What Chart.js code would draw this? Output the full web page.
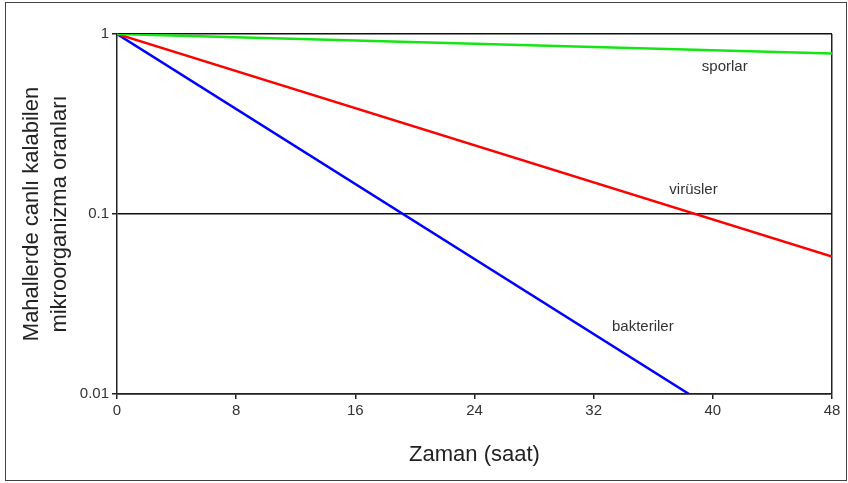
<!DOCTYPE html>
<html>
<head>
<meta charset="utf-8">
<script src="https://cdn.jsdelivr.net/npm/chart.js@4"></script>
<style>
  body { margin: 0; background: #fff; }
  #wrap { position: relative; width: 848px; height: 483px; }
  #frame { position: absolute; left: 5px; top: 2px; width: 840px; height: 477px; border: 1.5px solid #444; }
</style>
</head>
<body>
<div id="wrap">
  <canvas id="chart" width="848" height="483"></canvas>
  <div id="frame"></div>
</div>
<script>
// hours on the x axis, survival fraction on the y axis (log)
const xTicks = [0, 8, 16, 24, 32, 40, 48];
const yTicks = [0.01, 0.1, 1];

const seriesNames = ["sporlar", "virüsler", "bakteriler"];
const seriesColors = ["#14e614", "#ff0000", "#0000ff"];
const sporlarHours = [0, 48];
const sporlarValues = [1, 0.78];
const viruslerHours = [0, 48];
const viruslerValues = [1, 0.058];
const bakterilerHours = [0, 38.4];
const bakterilerValues = [1, 0.01];

// where each curve's name sits, in data units
const labelHours = [40.8, 38.7, 35.3];
const labelValues = [0.66, 0.137, 0.0235];

const font = "'Liberation Sans', Arial, sans-serif";

function toPoints(xs, ys) {
  return xs.map((x, i) => ({x: x, y: ys[i]}));
}

const curveLabels = {
  id: "curveLabels",
  afterDatasetsDraw(chart) {
    const ctx = chart.ctx;
    const xs = chart.scales.x;
    const ys = chart.scales.y;
    ctx.save();
    ctx.font = "15px " + font;
    ctx.fillStyle = "#333";
    ctx.textAlign = "center";
    ctx.textBaseline = "middle";
    seriesNames.forEach((name, i) => {
      ctx.fillText(name, xs.getPixelForValue(labelHours[i]), ys.getPixelForValue(labelValues[i]));
    });
    ctx.restore();
  }
};

window.addEventListener("DOMContentLoaded", function () {
  const allHours = [sporlarHours, viruslerHours, bakterilerHours];
  const allValues = [sporlarValues, viruslerValues, bakterilerValues];
  const datasets = seriesNames.map((name, i) => ({
    label: name,
    data: toPoints(allHours[i], allValues[i]),
    borderColor: seriesColors[i],
    borderWidth: 2.5,
    pointRadius: 0,
    tension: 0
  }));

  const config = {
    type: "line",
    data: { datasets: datasets },
    plugins: [curveLabels],
    options: {
      responsive: false,
      animation: false,
      layout: { padding: { top: 34, right: 16, bottom: 0, left: 0 } },
      plugins: { legend: { display: false }, tooltip: { enabled: false } },
      scales: {
        x: {
          type: "linear",
          min: 0,
          max: 48,
          afterBuildTicks: scale => { scale.ticks = xTicks.map(v => ({value: v})); },
          afterFit: scale => { scale.height = 89; },
          border: { color: "#222", width: 1.5 },
          grid: {
            color: c => (c.tick && c.tick.value === 48) ? "#222" : "rgba(0,0,0,0)",
            lineWidth: 1.5,
            tickColor: "#222",
            tickLength: 5
          },
          ticks: { color: "#333", font: { family: font, size: 15 }, padding: 3, maxRotation: 0 },
          title: {
            display: true,
            text: "Zaman (saat)",
            color: "#222",
            font: { family: font, size: 22 },
            padding: { top: 0, bottom: 15 }
          }
        },
        y: {
          type: "logarithmic",
          min: 0.01,
          max: 1,
          afterBuildTicks: scale => { scale.ticks = yTicks.map(v => ({value: v})); },
          afterFit: scale => { scale.width = 117; },
          border: { color: "#222", width: 1.5 },
          grid: { color: "#111", lineWidth: 1.5, tickColor: "#222", tickLength: 5 },
          ticks: {
            color: "#333",
            font: { family: font, size: 15 },
            padding: 3,
            callback: v => String(v)
          },
          title: {
            display: true,
            text: ["Mahallerde canlı kalabilen", "mikroorganizma oranları"],
            color: "#222",
            font: { family: font, size: 22, lineHeight: 1.27 },
            padding: { top: 18, bottom: 0 }
          }
        }
      }
    }
  };

  new Chart(document.getElementById("chart"), config);
});
</script>
</body>
</html>
